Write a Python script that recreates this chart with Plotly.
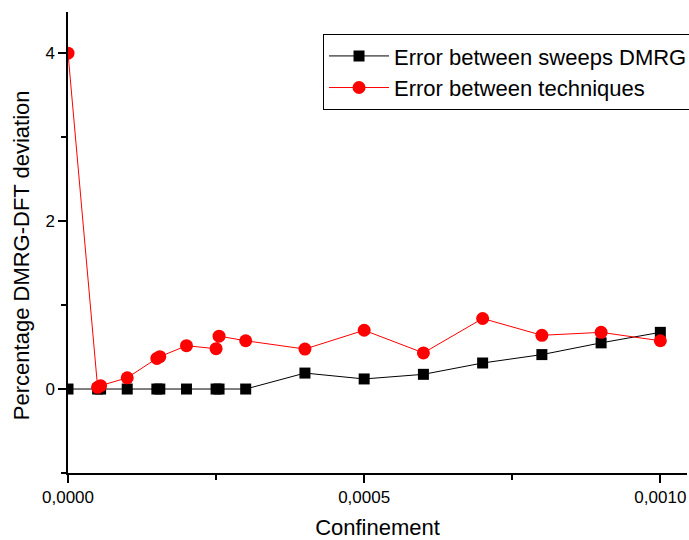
import plotly.graph_objects as go

confinement = [0, 0.00005, 0.000055, 0.0001, 0.00015, 0.000155, 0.0002, 0.00025, 0.000255,
               0.0003, 0.0004, 0.0005, 0.0006, 0.0007, 0.0008, 0.0009, 0.0010]
err_sweeps = [0, 0, 0, 0, 0, 0, 0, 0, 0,
              0, 0.19, 0.12, 0.175, 0.31, 0.41, 0.55, 0.675]
err_techniques = [4.0, 0.02, 0.04, 0.134, 0.365, 0.385, 0.516, 0.48, 0.63,
                  0.575, 0.476, 0.70, 0.43, 0.84, 0.64, 0.675, 0.575]

x_tickvals = [0, 0.0005, 0.0010]
x_ticktext = ["0,0000", "0,0005", "0,0010"]
y_tickvals = [0, 2, 4]
y_ticktext = ["0", "2", "4"]

font_family = "Liberation Sans, Arial, sans-serif"

fig = go.Figure()
fig.add_trace(go.Scatter(
    x=confinement, y=err_sweeps, mode="lines+markers",
    name="Error between sweeps DMRG",
    line=dict(color="black", width=1),
    marker=dict(symbol="square", size=11, color="black"),
))
fig.add_trace(go.Scatter(
    x=confinement, y=err_techniques, mode="lines+markers",
    name="Error between techniques",
    line=dict(color="red", width=1),
    marker=dict(symbol="circle", size=13, color="red"),
))

fig.update_layout(
    width=689, height=540,
    margin=dict(l=68, r=2, t=12, b=67, autoexpand=False),
    paper_bgcolor="white", plot_bgcolor="white",
    font=dict(family=font_family, color="black"),
    showlegend=True,
    legend=dict(
        x=0.412, y=0.952, xanchor="left", yanchor="top",
        bordercolor="black", borderwidth=1, bgcolor="white",
        font=dict(size=22, family=font_family),
        itemwidth=60, tracegroupgap=0,
    ),
    xaxis=dict(
        range=[0, 0.001045],
        tickvals=x_tickvals, ticktext=x_ticktext,
        ticks="outside", ticklen=8, tickwidth=1.5, tickcolor="black",
        minor=dict(tickvals=[0.00025, 0.00075], ticks="outside", ticklen=5, tickwidth=1.5, tickcolor="black"),
        showline=True, linecolor="black", linewidth=1.5,
        showgrid=False, zeroline=False,
        tickfont=dict(size=17),
        title=dict(text="Confinement", font=dict(size=22), standoff=16),
    ),
    yaxis=dict(
        range=[-1, 4.49],
        tickvals=y_tickvals, ticktext=y_ticktext,
        ticks="outside", ticklen=8, tickwidth=1.5, tickcolor="black",
        minor=dict(tickvals=[-1, 1, 3], ticks="outside", ticklen=5, tickwidth=1.5, tickcolor="black"),
        showline=True, linecolor="black", linewidth=1.5,
        showgrid=False, zeroline=False,
        tickfont=dict(size=17),
    ),
    annotations=[dict(
        text="Percentage DMRG-DFT deviation", textangle=-90,
        xref="paper", yref="paper", x=-0.074, y=0.473,
        xanchor="center", yanchor="middle", showarrow=False,
        font=dict(size=22, family=font_family),
    )],
)

fig.write_html("out.html")
